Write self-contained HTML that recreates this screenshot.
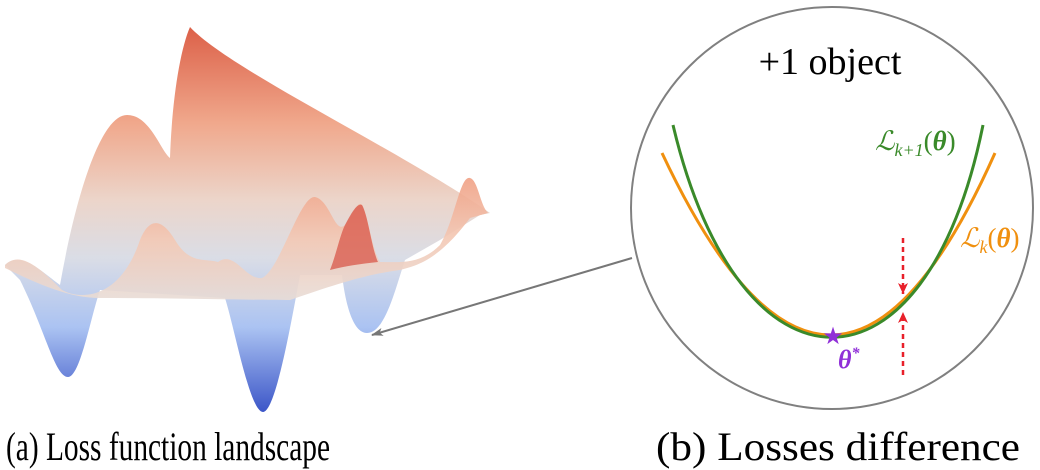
<!DOCTYPE html>
<html><head><style>html,body{margin:0;padding:0;background:#fff;width:1040px;height:470px;overflow:hidden}</style></head>
<body>
<svg width="1040" height="470" viewBox="0 0 1040 470" xmlns="http://www.w3.org/2000/svg">
<defs>
<linearGradient id="g1" x1="0" y1="0" x2="0" y2="1" gradientUnits="objectBoundingBox">
<stop offset="0" stop-color="#dc6048"/>
<stop offset="0.25" stop-color="#f0a88c"/>
<stop offset="0.45" stop-color="#ecd5ca"/>
<stop offset="0.6" stop-color="#dadde6"/>
<stop offset="0.78" stop-color="#abc3f2"/>
<stop offset="1" stop-color="#3c56c8"/>
</linearGradient>
<linearGradient id="g2" x1="0" y1="0" x2="0" y2="1">
<stop offset="0" stop-color="#f0a084"/>
<stop offset="0.5" stop-color="#f3c8b4"/>
<stop offset="1" stop-color="#e8dcd6"/>
</linearGradient>
<marker id="ah" markerWidth="12" markerHeight="8" refX="11" refY="4" orient="auto" markerUnits="userSpaceOnUse">
<path d="M0,0 L12,4 L0,8 L3,4 Z" fill="#777"/></marker>
<marker id="rh" markerWidth="12" markerHeight="10" refX="11" refY="5" orient="auto" markerUnits="userSpaceOnUse">
<path d="M0,0 L11,5 L0,10 L3,5 Z" fill="#e8202a"/></marker>
</defs>
<!-- landscape -->
<path d="M190 27 C230 70 400 150 490 213 L480 215 L440 240 L405 260 C395 290 385 333 367 333 C352 333 345 300 342 275 L300 275 C290 330 275 412 263 412 C250 412 235 330 225 298 L100 290 C90 320 80 377 68 377 C55 377 45 330 20 280 L5 265 C20 250 40 270 60 285 C75 200 100 115 127 115 C150 115 160 150 170 158 C172 100 180 50 190 27 Z" fill="url(#g1)"/>
<path d="M5 265 C20 250 40 268 62 290 C80 300 120 300 140 240 C148 220 160 215 175 240 C190 265 205 258 218 262 C235 250 245 280 262 278 C280 270 300 195 315 197 C330 200 335 235 345 225 C352 215 358 200 362 205 C368 215 372 250 380 262 C400 262 420 265 440 245 C455 220 460 175 470 178 C478 180 480 205 488 213 L470 218 C440 258 420 265 400 270 C360 275 320 290 290 300 C250 300 180 298 100 298 C70 298 40 285 5 268 Z" fill="url(#g2)" opacity="0.9"/>
<path d="M345 225 C352 212 357 203 362 205 C368 215 372 250 378 262 C360 264 345 266 330 270 C336 255 340 235 345 225 Z" fill="#d8574a" opacity="0.75"/>
<!-- arrow -->
<line x1="632" y1="258" x2="372" y2="335" stroke="#777" stroke-width="2" marker-end="url(#ah)"/>
<!-- circle -->
<circle cx="832" cy="208" r="201" fill="none" stroke="#808080" stroke-width="2"/>
<text x="830" y="74" font-family="Liberation Serif, serif" font-size="38" text-anchor="middle">+1 object</text>
<path d="M662 153 Q833 517 995 153" fill="none" stroke="#f0900f" stroke-width="3"/>
<path d="M673 125 C740 408 926 408 983 125" fill="none" stroke="#3a8a2a" stroke-width="3"/>
<line x1="903" y1="238" x2="903" y2="294" stroke="#e8202a" stroke-width="2.5" stroke-dasharray="5,4" marker-end="url(#rh)"/>
<line x1="903" y1="375" x2="903" y2="312" stroke="#e8202a" stroke-width="2.5" stroke-dasharray="5,4" marker-end="url(#rh)"/>
<text x="833" y="344" font-size="24" fill="#9030d8" text-anchor="middle" font-family="DejaVu Sans, sans-serif">★</text>
<text x="838" y="368" font-family="Liberation Serif, serif" font-size="26" font-weight="bold" font-style="italic" fill="#9030d8">θ<tspan font-size="16" dy="-10">*</tspan></text>
<text x="875" y="150" font-family="Liberation Serif, serif" font-size="27" fill="#3a8a2a"><tspan font-style="italic">ℒ</tspan><tspan font-size="18" dy="6" font-style="italic">k+1</tspan><tspan dy="-6">(</tspan><tspan font-weight="bold" font-style="italic">θ</tspan>)</text>
<text x="960" y="247" font-family="Liberation Serif, serif" font-size="27" fill="#f0900f"><tspan font-style="italic">ℒ</tspan><tspan font-size="18" dy="6" font-style="italic">k</tspan><tspan dy="-6">(</tspan><tspan font-weight="bold" font-style="italic">θ</tspan>)</text>
<!-- captions -->
<text x="6" y="460" font-family="Liberation Serif, serif" font-size="40" textLength="324" lengthAdjust="spacingAndGlyphs">(a) Loss function landscape</text>
<text x="656" y="460" font-family="Liberation Serif, serif" font-size="40" textLength="364" lengthAdjust="spacingAndGlyphs">(b) Losses difference</text>
</svg>
</body></html>
